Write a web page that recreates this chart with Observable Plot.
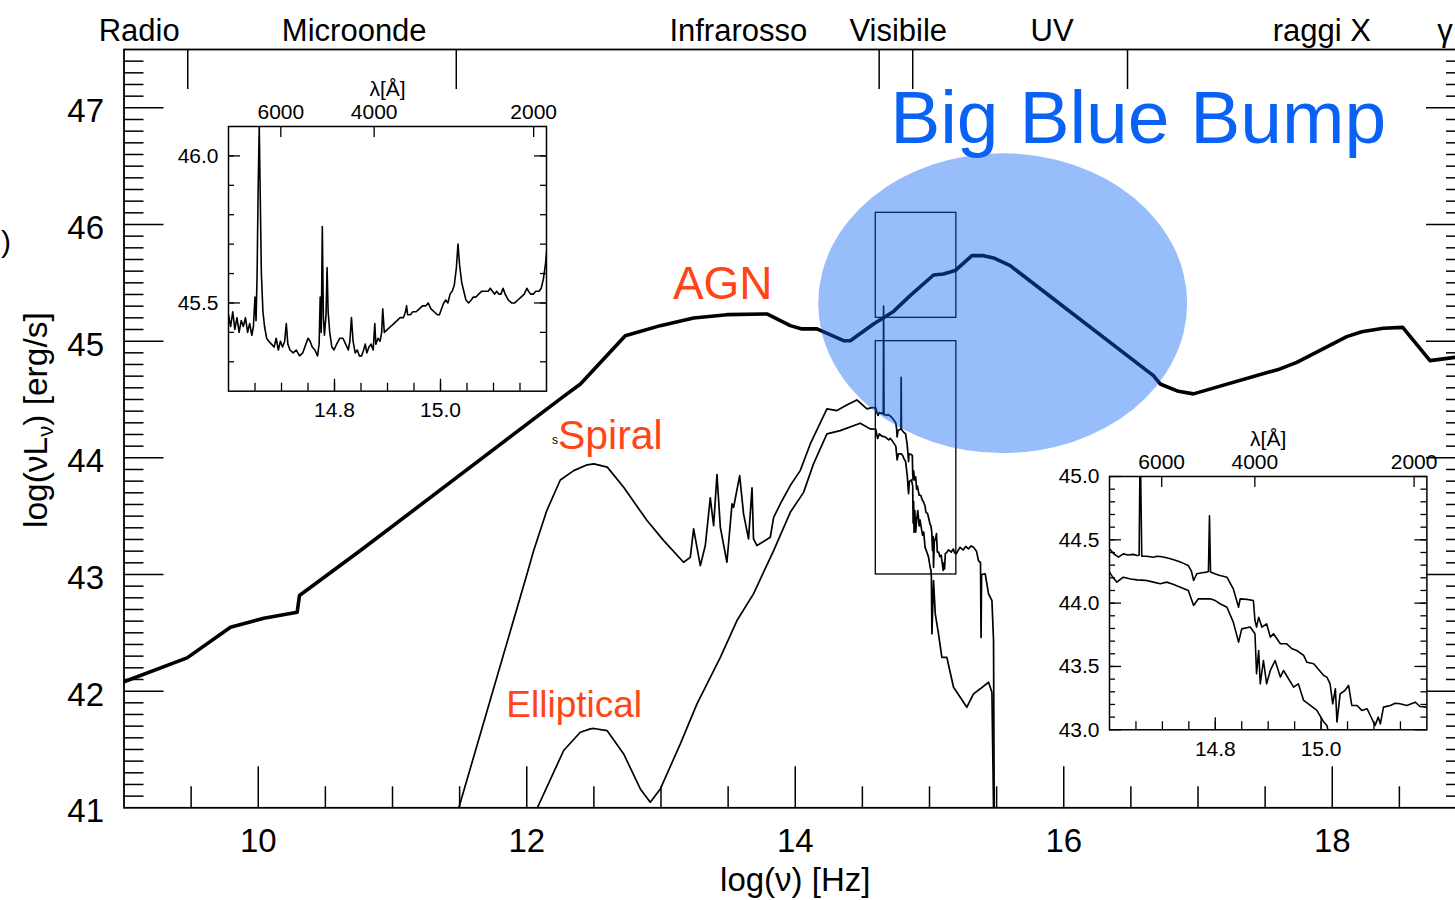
<!DOCTYPE html>
<html><head><meta charset="utf-8">
<script src="https://cdn.jsdelivr.net/npm/d3@7"></script>
<script src="https://cdn.jsdelivr.net/npm/@observablehq/plot@0.6"></script>
<style>
html,body{margin:0;padding:0;background:#fff;overflow:hidden}
#stage{position:relative;width:1455px;height:900px;overflow:hidden;background:#fff}
#stage > div{position:absolute}
#stage svg{max-width:none !important}
</style></head>
<body><div id="stage"><div id="main" style="left:0;top:0;width:1480px;height:900px"></div><div id="ins1"></div><div id="ins2"></div></div>
<script>
// ---------------- DATA ----------------
// AGN spectral energy distribution [log nu, log nuL_nu]
const agnSED = [[9.0,42.08],[9.47,42.285],[9.793,42.548],[10.041,42.625],[10.29,42.676],[10.307,42.82],[10.761,43.205],
 [12.25,44.505],[12.4,44.633],[12.734,45.047],[12.995,45.133],[13.243,45.199],[13.491,45.227],[13.789,45.233],[13.963,45.133],
 [14.05,45.105],[14.162,45.105],[14.36,45.004],[14.41,45.004],[14.583,45.147],[14.732,45.255],[14.856,45.39],[15.03,45.567],
 [15.104,45.576],[15.191,45.605],[15.316,45.733],[15.402,45.733],[15.477,45.713],[15.601,45.647],[16.619,44.747],[16.668,44.704],
 [16.718,44.633],[16.854,44.57],[16.966,44.548],[17.611,44.762],[17.736,44.818],[18.108,45.039],[18.22,45.081],[18.381,45.11],
 [18.525,45.118],[18.728,44.833],[18.914,44.861],[19.0,44.87]];

// Spiral galaxy template: IR part, optical part (also shown in the lower inset), UV part
const spiralIR = [[11.494,41.0],[12.002,43.005],[12.05,43.2],[12.15,43.55],[12.25,43.81],[12.35,43.89],[12.45,43.94],[12.5,43.948],
 [12.6,43.92],[12.722,43.747],[12.896,43.462],[13.02,43.29],[13.168,43.105],[13.218,43.147],[13.243,43.391],[13.268,43.233],
 [13.293,43.076],[13.33,43.248],[13.367,43.656],[13.392,43.419],[13.417,43.856],[13.442,43.404],[13.491,43.105],[13.529,43.605],
 [13.541,43.576],[13.586,43.847],[13.615,43.519],[13.652,43.305],[13.678,43.742],[13.689,43.305],[13.715,43.248],[13.814,43.319],
 [13.839,43.49],[13.9,43.63],[13.963,43.762],[14.037,43.89],[14.112,44.119],[14.236,44.419],[14.311,44.405],[14.38,44.45],
 [14.459,44.496],[14.534,44.419],[14.57,44.43]];
const spiralOptical = [[14.600,44.429],[14.608,44.39],[14.617,44.363],[14.626,44.389],[14.635,44.38],[14.645,44.385],[14.652,44.376],
 [14.656,44.378],[14.658,45.30],[14.661,44.37],[14.670,44.37],[14.683,44.363],[14.690,44.37],[14.696,44.368],[14.708,44.358],
 [14.72,44.345],[14.734,44.324],[14.742,44.31],[14.749,44.297],[14.755,44.25],[14.759,44.179],[14.765,44.232],[14.775,44.24],
 [14.784,44.245],[14.787,44.25],[14.789,44.69],[14.791,44.245],[14.800,44.23],[14.809,44.218],[14.822,44.205],[14.834,44.113],
 [14.844,43.968],[14.847,44.034],[14.86,44.03],[14.872,44.021],[14.875,43.863],[14.878,43.811],[14.882,43.889],[14.888,43.811],
 [14.897,43.837],[14.904,43.732],[14.91,43.758],[14.923,43.679],[14.935,43.679],[14.945,43.64],[14.954,43.626],[14.967,43.587],
 [14.973,43.534],[14.986,43.521],[15.005,43.429],[15.011,43.416],[15.017,43.363],[15.022,43.205],[15.027,43.324],[15.030,43.061],
 [15.036,43.284],[15.045,43.31],[15.052,43.35],[15.058,43.192],[15.068,43.192],[15.077,43.153],[15.087,43.166],[15.096,43.087],
 [15.102,43.034],[15.108,43.1],[15.112,43.047],[15.118,43.179],[15.131,43.192],[15.14,43.21],[15.149,43.205],[15.162,43.192],
 [15.178,43.218],[15.187,43.184],[15.200,43.179]];
const spiralUV = [[15.21,43.2],[15.228,43.233],[15.25,43.21],[15.27,43.24],[15.29,43.22],[15.31,43.245],[15.328,43.233],[15.35,43.2],
 [15.365,43.119],[15.38,43.1],[15.384,42.46],[15.388,43.0],[15.415,43.005],[15.44,42.834],[15.465,42.776],[15.477,42.434],[15.482,41.0]];

// Elliptical galaxy template
const ellipticalIR = [[12.079,41.0],[12.275,41.491],[12.399,41.648],[12.474,41.677],[12.5,41.68],[12.598,41.662],[12.722,41.462],
 [12.846,41.162],[12.92,41.048],[12.995,41.162],[13.144,41.548],[13.268,41.891],[13.442,42.29],[13.566,42.605],[13.689,42.834],
 [13.839,43.205],[13.963,43.533],[14.062,43.704],[14.136,43.948],[14.236,44.205],[14.335,44.233],[14.484,44.296],[14.558,44.248]];
const ellipticalOptical = [[14.600,44.245],[14.607,44.2],[14.614,44.166],[14.626,44.205],[14.64,44.19],[14.652,44.184],[14.668,44.18],
 [14.683,44.166],[14.696,44.153],[14.708,44.166],[14.72,44.15],[14.734,44.126],[14.749,44.1],[14.759,43.982],[14.768,44.034],
 [14.79,44.034],[14.80,44.02],[14.809,43.995],[14.822,43.968],[14.834,43.85],[14.844,43.692],[14.85,43.797],[14.866,43.811],
 [14.875,43.758],[14.878,43.442],[14.882,43.626],[14.885,43.363],[14.891,43.547],[14.897,43.363],[14.904,43.468],[14.913,43.547],
 [14.923,43.416],[14.929,43.468],[14.948,43.337],[14.957,43.363],[14.967,43.232],[14.976,43.205],[14.992,43.153],[15.005,43.061],
 [15.011,43.034],[15.014,42.98]];
const ellipticalUV = [[15.018,42.491],[15.03,42.948],[15.043,42.662],[15.067,42.491],[15.092,42.29],[15.129,42.29],[15.179,42.033],
 [15.229,41.948],[15.278,41.862],[15.328,41.977],[15.378,42.02],[15.44,42.076],[15.465,41.991],[15.477,41.005]];

// Quasar composite optical spectrum (upper inset)
const agnOptical = [[14.600,45.46],[14.604,45.42],[14.608,45.47],[14.612,45.41],[14.616,45.45],[14.620,45.40],[14.624,45.44],
 [14.628,45.42],[14.632,45.45],[14.636,45.40],[14.640,45.43],[14.644,45.39],[14.647,45.42],[14.650,45.52],[14.652,45.44],
 [14.654,45.60],[14.656,45.90],[14.658,46.10],[14.660,45.85],[14.662,45.60],[14.665,45.47],[14.668,45.42],[14.672,45.38],
 [14.676,45.37],[14.681,45.36],[14.686,45.35],[14.690,45.38],[14.694,45.34],[14.698,45.37],[14.702,45.35],[14.706,45.37],
 [14.709,45.43],[14.712,45.36],[14.716,45.34],[14.722,45.33],[14.728,45.34],[14.734,45.32],[14.740,45.33],[14.746,45.36],
 [14.750,45.38],[14.754,45.37],[14.758,45.35],[14.763,45.34],[14.768,45.32],[14.771,45.36],[14.773,45.52],[14.775,45.40],
 [14.777,45.76],[14.779,45.45],[14.781,45.39],[14.784,45.46],[14.786,45.62],[14.788,45.47],[14.791,45.40],[14.795,45.35],
 [14.799,45.34],[14.804,45.36],[14.810,45.38],[14.816,45.38],[14.821,45.36],[14.826,45.34],[14.829,45.37],[14.832,45.45],
 [14.835,45.37],[14.839,45.33],[14.843,45.34],[14.847,45.32],[14.851,45.32],[14.855,45.34],[14.858,45.36],[14.861,45.33],
 [14.865,45.35],[14.869,45.36],[14.873,45.34],[14.876,45.43],[14.878,45.36],[14.882,45.38],[14.886,45.37],[14.889,45.40],
 [14.891,45.48],[14.894,45.40],[14.900,45.41],[14.906,45.42],[14.912,45.43],[14.918,45.44],[14.924,45.45],[14.930,45.45],
 [14.934,45.47],[14.936,45.49],[14.938,45.46],[14.943,45.46],[14.948,45.47],[14.954,45.47],[14.960,45.48],[14.966,45.49],
 [14.972,45.49],[14.977,45.50],[14.982,45.48],[14.988,45.47],[14.994,45.46],[14.998,45.46],[15.002,45.48],[15.006,45.50],
 [15.010,45.51],[15.014,45.50],[15.018,45.53],[15.022,45.54],[15.026,45.56],[15.030,45.62],[15.033,45.70],[15.036,45.63],
 [15.040,45.57],[15.044,45.54],[15.048,45.51],[15.053,45.50],[15.058,45.51],[15.062,45.52],[15.067,45.52],[15.072,45.53],
 [15.078,45.54],[15.084,45.54],[15.090,45.54],[15.094,45.55],[15.098,45.54],[15.102,45.53],[15.106,45.54],[15.110,45.53],
 [15.114,45.53],[15.118,45.55],[15.122,45.53],[15.128,45.51],[15.134,45.50],[15.140,45.50],[15.146,45.51],[15.152,45.52],
 [15.158,45.53],[15.163,45.55],[15.166,45.54],[15.170,45.53],[15.175,45.53],[15.180,45.54],[15.186,45.54],[15.190,45.55],
 [15.194,45.58],[15.198,45.63],[15.201,45.69],[15.203,45.72]];

// Axes
const xTickLabels = [10, 12, 14, 16, 18];
const yTickLabels = [41, 42, 43, 44, 45, 46, 47];
const bandNames = ["Radio", "Microonde", "Infrarosso", "Visibile", "UV", "raggi X", "γ"];
const bandLabelNu = [9.113, 10.715, 13.576, 14.767, 15.913, 17.922, 18.84];
const bandEdges = [9.475, 11.475, 14.625, 14.875, 16.475];
const lambdaTicks = [6000, 4000, 2000];           // Å
const insetXLabels = [14.8, 15.0];
const inset1YLabels = [45.5, 46.0];
const inset2YLabels = [43.0, 43.5, 44.0, 44.5, 45.0];
// zoomed regions [x1, x2, y1, y2]
const zoomBoxes = [[14.6, 15.2, 45.2, 46.1], [14.6, 15.2, 43.0, 45.0]];
// Big Blue Bump region (center and semi-axes, in log nu / log L)
const bumpCenter = [15.549, 45.321];
const bumpRadii = [1.374, 1.285];
// curve labels
const curveLabels = [
  {text: "AGN", x: 13.46, y: 45.364, size: 46, anchor: "middle"},
  {text: "Spiral", x: 12.232, y: 44.079, size: 41, anchor: "start"},
  {text: "Elliptical", x: 11.848, y: 41.775, size: 37, anchor: "start"}
];

// ---------------- RENDER ----------------
const FONT = "'Liberation Sans', Arial, Helvetica, sans-serif";
const RED = "#ff4416", BLUE = "#0a62f5";
const NS = "http://www.w3.org/2000/svg";
const W = 1480, H = 900;
const M = {left: 123.5, right: 14, top: 49, bottom: 92.7};
const PW = W - M.left - M.right, PH = H - M.top - M.bottom;

const xMinor = d3.range(19, 38).map(v => v / 2).filter(v => v % 2 !== 0);
const yMinor = d3.range(411, 475).filter(v => v % 10 !== 0).map(v => v / 10);
const yMajor = yTickLabels.slice(1);
const spiral = spiralIR.concat(spiralOptical, spiralUV);
const elliptical = ellipticalIR.concat(ellipticalOptical, ellipticalUV);
const X = d => d[0], Y = d => d[1];

function bumpMark(index, scales) {
  const cx = scales.x(bumpCenter[0]), cy = scales.y(bumpCenter[1]);
  const rx = Math.abs(scales.x(bumpCenter[0] + bumpRadii[0]) - cx);
  const ry = Math.abs(scales.y(bumpCenter[1] + bumpRadii[1]) - cy);
  const e = document.createElementNS(NS, "ellipse");
  e.setAttribute("cx", cx); e.setAttribute("cy", cy);
  e.setAttribute("rx", rx); e.setAttribute("ry", ry);
  e.setAttribute("fill", BLUE); e.setAttribute("fill-opacity", 0.42);
  return e;
}
function yTitleMark(index, scales, values, dim) {
  const t = document.createElementNS(NS, "text");
  const cy = (dim.marginTop + dim.height - dim.marginBottom) / 2 - 8;
  t.setAttribute("transform", `translate(47,${cy}) rotate(-90)`);
  t.setAttribute("text-anchor", "middle");
  t.setAttribute("font-size", 33.5);
  t.setAttribute("fill", "#000");
  t.appendChild(document.createTextNode("log(νL"));
  const s = document.createElementNS(NS, "tspan");
  s.setAttribute("dy", 6); s.setAttribute("font-size", 22); s.textContent = "ν";
  const r = document.createElementNS(NS, "tspan");
  r.setAttribute("dy", -6); r.textContent = ") [erg/s]";
  t.appendChild(s); t.appendChild(r);
  return t;
}

const main = Plot.plot({
  width: W, height: H,
  marginLeft: M.left, marginRight: M.right, marginTop: M.top, marginBottom: M.bottom,
  x: {domain: [9, 19], axis: null},
  y: {domain: [41, 47.5], axis: null},
  style: {fontFamily: FONT, background: "transparent", overflow: "visible", maxWidth: "none"},
  marks: [
    Plot.ruleX(xMinor, {x: d => d, insetTop: PH - 21, stroke: "#000", strokeWidth: 1.5}),
    Plot.ruleX(xTickLabels, {x: d => d, insetTop: PH - 41, stroke: "#000", strokeWidth: 1.5}),
    Plot.ruleY(yMinor, {y: d => d, insetRight: PW - 20, stroke: "#000", strokeWidth: 1.5}),
    Plot.ruleY(yMinor, {y: d => d, insetLeft: PW - 20, stroke: "#000", strokeWidth: 1.5}),
    Plot.ruleY(yMajor, {y: d => d, insetRight: PW - 40, stroke: "#000", strokeWidth: 1.5}),
    Plot.ruleY(yMajor, {y: d => d, insetLeft: PW - 40, stroke: "#000", strokeWidth: 1.5}),
    Plot.ruleX(bandEdges, {x: d => d, insetBottom: PH - 40, stroke: "#000", strokeWidth: 1.5}),
    Plot.frame({stroke: "#000", strokeWidth: 1.8}),
    Plot.line(elliptical, {x: X, y: Y, stroke: "#000", strokeWidth: 1.7, clip: true}),
    Plot.line(spiral, {x: X, y: Y, stroke: "#000", strokeWidth: 1.7, clip: true}),
    Plot.line(agnSED, {x: X, y: Y, stroke: "#000", strokeWidth: 3.6, strokeLinejoin: "round", clip: true}),
    Plot.rect(zoomBoxes, {x1: d => d[0], x2: d => d[1], y1: d => d[2], y2: d => d[3], fill: "none", stroke: "#000", strokeWidth: 1.3}),
    bumpMark,
    Plot.text(bandNames, {x: (d, i) => bandLabelNu[i], text: d => d, frameAnchor: "top", lineAnchor: "bottom", dy: -9, fontSize: 31, fill: "#000"}),
    Plot.text(xTickLabels, {x: d => d, text: d => String(d), frameAnchor: "bottom", lineAnchor: "bottom", dy: 44.5, fontSize: 33, fill: "#000"}),
    Plot.text(yTickLabels, {y: d => d, text: d => String(d), frameAnchor: "left", textAnchor: "end", lineAnchor: "middle", dx: -20, dy: 4, fontSize: 33, fill: "#000"}),
    Plot.text(["log(ν) [Hz]"], {text: d => d, frameAnchor: "bottom", lineAnchor: "bottom", dy: 83.5, fontSize: 33, fill: "#000"}),
    Plot.text([")"], {text: d => d, x: 9, y: 45.76, dx: -123, textAnchor: "start", lineAnchor: "bottom", fontSize: 30, fill: "#000"}),
    yTitleMark,
    Plot.text(["s"], {text: d => d, x: 12.232, y: 44.12, textAnchor: "end", lineAnchor: "bottom", fontSize: 12, fill: "#000"}),
    ...curveLabels.map(l => Plot.text([l], {x: "x", y: "y", text: "text", textAnchor: l.anchor, lineAnchor: "bottom", fontSize: l.size, fill: RED})),
    Plot.text(["Big Blue Bump"], {text: d => d, x: 14.707, y: 46.695, textAnchor: "start", lineAnchor: "bottom", fontSize: 75, fill: BLUE})
  ]
});
document.getElementById("main").appendChild(main);

function lambdaToLogNu(l) { return Math.log10(2.998e18 / l); }

function makeInset({fw, fh, yDomain, series, yLabels}) {
  const m = {left: 70, right: 30, top: 60, bottom: 40};
  const xMin = d3.range(1, 12).map(i => +(14.6 + i * 0.05).toFixed(2));
  const yTicks = d3.range(Math.round(yDomain[0] * 10) + 1, Math.round(yDomain[1] * 10)).map(v => v / 10);
  return Plot.plot({
    width: m.left + fw + m.right, height: m.top + fh + m.bottom,
    marginLeft: m.left, marginRight: m.right, marginTop: m.top, marginBottom: m.bottom,
    x: {domain: [14.6, 15.2], axis: null},
    y: {domain: yDomain, axis: null},
    style: {fontFamily: FONT, background: "transparent", overflow: "visible", maxWidth: "none"},
    marks: [
      Plot.ruleX(xMin, {x: d => d, insetTop: fh - 8, stroke: "#000", strokeWidth: 1.3}),
      Plot.ruleX(insetXLabels, {x: d => d, insetTop: fh - 12, stroke: "#000", strokeWidth: 1.3}),
      Plot.ruleX(lambdaTicks.map(lambdaToLogNu), {x: d => d, insetBottom: fh - 11, stroke: "#000", strokeWidth: 1.3}),
      Plot.ruleY(yTicks, {y: d => d, insetRight: fw - 6, stroke: "#000", strokeWidth: 1.3}),
      Plot.ruleY(yTicks, {y: d => d, insetLeft: fw - 6, stroke: "#000", strokeWidth: 1.3}),
      Plot.ruleY(yLabels, {y: d => d, insetRight: fw - 12, stroke: "#000", strokeWidth: 1.3}),
      Plot.ruleY(yLabels, {y: d => d, insetLeft: fw - 12, stroke: "#000", strokeWidth: 1.3}),
      Plot.frame({stroke: "#000", strokeWidth: 1.5}),
      ...series.map(s => Plot.line(s, {x: X, y: Y, stroke: "#000", strokeWidth: 1.6, clip: true})),
      Plot.text(insetXLabels, {x: d => d, text: d => d.toFixed(1), frameAnchor: "bottom", lineAnchor: "middle", dy: 19, fontSize: 21, fill: "#000"}),
      Plot.text(lambdaTicks, {x: d => lambdaToLogNu(d), text: d => String(d), frameAnchor: "top", lineAnchor: "middle", dy: -14, fontSize: 21, fill: "#000"}),
      Plot.text(["λ[Å]"], {text: d => d, frameAnchor: "top", lineAnchor: "middle", dy: -37, fontSize: 21, fill: "#000"}),
      Plot.text(yLabels, {y: d => d, text: d => d.toFixed(1), frameAnchor: "left", textAnchor: "end", lineAnchor: "middle", dx: -10, fontSize: 21, fill: "#000"})
    ]
  });
}

const ins1 = document.getElementById("ins1");
ins1.style.left = (227.7 - 70) + "px"; ins1.style.top = (126 - 60) + "px";
ins1.style.width = (70 + 318 + 30) + "px";
ins1.appendChild(makeInset({fw: 318, fh: 264.7, yDomain: [45.2, 46.1], series: [agnOptical], yLabels: inset1YLabels}));

const ins2 = document.getElementById("ins2");
ins2.style.left = (1109.3 - 70) + "px"; ins2.style.top = (476 - 60) + "px";
ins2.style.width = (70 + 317.4 + 30) + "px";
ins2.appendChild(makeInset({fw: 317.4, fh: 253.3, yDomain: [43.0, 45.0], series: [spiralOptical, ellipticalOptical], yLabels: inset2YLabels}));
</script>
</body></html>
